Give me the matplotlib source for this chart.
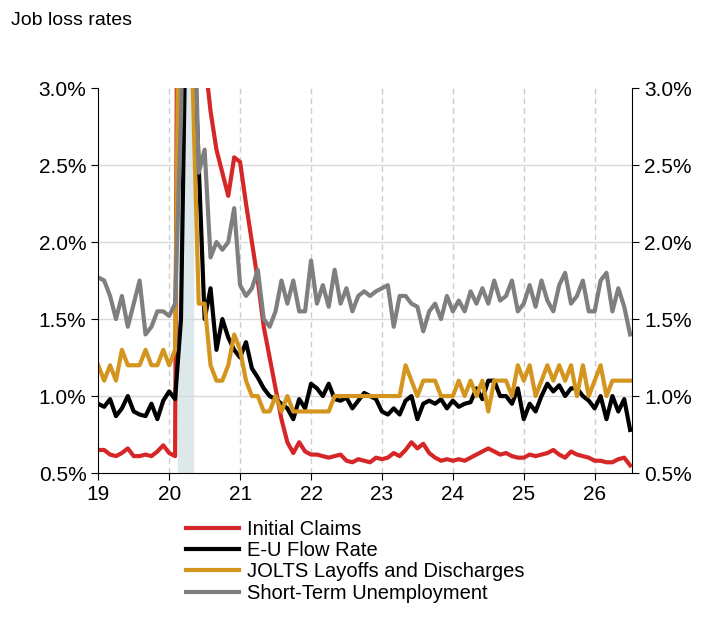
import matplotlib
matplotlib.use("Agg")
import matplotlib.pyplot as plt
import numpy as np

claims = [.65,.65,.62,.61,.63,.66,.61,.61,.62,.61,.64,.68,
          .63,.61,9,12,8,4.5,3.2,2.85,2.6,2.45,2.3,2.55,
          2.52,2.25,2.0,1.75,1.45,1.25,1.05,.85,.7,.63,.7,.64,
          .62,.62,.61,.60,.61,.62,.58,.57,.59,.58,.57,.60,
          .59,.60,.63,.61,.65,.70,.66,.69,.63,.60,.58,.59,
          .58,.59,.58,.60,.62,.64,.66,.64,.62,.63,.61,.60,
          .60,.62,.61,.62,.63,.65,.62,.60,.64,.62,.61,.60,
          .58,.58,.57,.57,.59,.60,.55]
eu_flow = [.95,.93,.98,.87,.92,1.0,.9,.88,.87,.95,.85,.97,
           1.03,.98,1.5,4,3.5,2.5,1.5,1.7,1.3,1.5,1.38,1.3,
           1.25,1.35,1.18,1.12,1.05,1.0,.98,.95,.92,.85,.98,.92,
           1.08,1.05,1.0,1.08,.98,.97,.99,.92,.97,1.02,1.0,.98,
           .9,.88,.92,.88,.97,1.0,.85,.95,.97,.95,.98,.92,
           .97,.93,.95,.96,1.05,.98,1.1,1.1,1.0,1.0,.95,1.05,
           .85,.95,.9,1.0,1.08,1.03,1.07,1.0,1.05,1.05,1.0,.97,
           .92,1.0,.85,1.0,.9,.98,.78]
jolts = [1.2,1.1,1.2,1.1,1.3,1.2,1.2,1.2,1.3,1.2,1.2,1.3,
         1.2,1.3,5,8,3,1.6,1.6,1.2,1.1,1.1,1.2,1.4,
         1.3,1.1,1.0,1.0,.9,.9,1.0,.9,1.0,.9,.9,.9,
         .9,.9,.9,.9,1.0,1.0,1.0,1.0,1.0,1.0,1.0,1.0,
         1.0,1.0,1.0,1.0,1.2,1.1,1.0,1.1,1.1,1.1,1.0,1.0,
         1.0,1.1,1.0,1.1,1.0,1.1,.9,1.1,1.1,1.1,1.0,1.2,
         1.1,1.2,1.0,1.1,1.2,1.1,1.2,1.1,1.2,1.0,1.2,1.0,
         1.1,1.2,1.0,1.1,1.1,1.1,1.1]
short_term = [1.77,1.75,1.65,1.5,1.65,1.45,1.6,1.75,1.4,1.45,1.55,1.55,
              1.52,1.6,2.8,5,4,2.45,2.6,1.9,2.0,1.95,2.0,2.22,
              1.72,1.65,1.7,1.82,1.5,1.45,1.55,1.75,1.6,1.75,1.55,1.55,
              1.88,1.6,1.72,1.58,1.82,1.6,1.7,1.55,1.65,1.68,1.65,1.68,
              1.7,1.72,1.45,1.65,1.65,1.6,1.58,1.42,1.55,1.6,1.5,1.65,
              1.55,1.62,1.55,1.68,1.6,1.7,1.6,1.75,1.62,1.65,1.75,1.55,
              1.6,1.72,1.58,1.75,1.62,1.55,1.72,1.8,1.6,1.65,1.75,1.55,
              1.55,1.75,1.8,1.55,1.7,1.58,1.4]
years = [19, 20, 21, 22, 23, 24, 25, 26]
t = 19 + np.arange(len(claims)) / 12

plt.rcParams['font.family'] = ['Liberation Sans', 'DejaVu Sans']
fig = plt.figure(figsize=(7.12, 6.2), dpi=100)
ax = fig.add_axes([0.138, 0.237, 0.75, 0.621])
ax.axvspan(20.12, 20.33, color="#dde8ea", zorder=0)
for y in [1.0, 1.5, 2.0, 2.5]:
    ax.axhline(y, color="#d9d9d9", lw=1, zorder=0)
for x in years[1:]:
    ax.axvline(x, color="#cccccc", lw=1, ls=(0, (4, 3)), zorder=0)

ax.plot(t, claims, color="#d62728", lw=3, label="Initial Claims")
ax.plot(t, eu_flow, color="black", lw=3, label="E-U Flow Rate")
ax.plot(t, jolts, color="#d4951f", lw=3, label="JOLTS Layoffs and Discharges")
ax.plot(t, short_term, color="#7f7f7f", lw=3, label="Short-Term Unemployment")

ax.set_xlim(19, 26.53)
ax.set_ylim(0.5, 3.0)
ax.set_xticks(years)
ax.set_xticklabels([str(y) for y in years])
yt = [0.5, 1.0, 1.5, 2.0, 2.5, 3.0]
ax.set_yticks(yt)
ax.set_yticklabels([f"{v:.1f}%" for v in yt])
ax.tick_params(labelsize=15, direction="out", length=5)
ax.tick_params(axis="y", right=True, labelright=True)
ax.spines["top"].set_visible(False)

fig.text(0.015, 0.96, "Job loss rates", fontsize=14)
ax.legend(loc="upper left", bbox_to_anchor=(0.15, -0.1), frameon=False,
          fontsize=14.5, handlelength=2.6, labelspacing=0.12, borderaxespad=0,
          handletextpad=0.4)
fig.savefig("out.png")
